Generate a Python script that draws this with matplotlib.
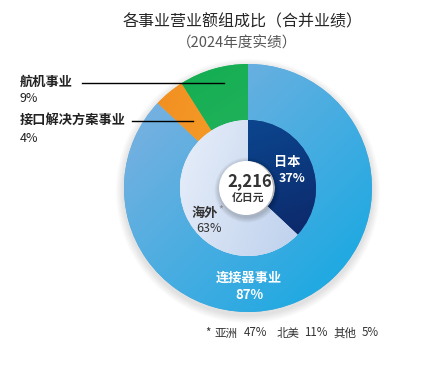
import numpy as np
import matplotlib
matplotlib.use('Agg')
import matplotlib.pyplot as plt
from matplotlib.colors import to_rgb
from matplotlib.patches import Circle

plt.rcParams['font.family'] = ['Noto Sans CJK SC', 'DejaVu Sans']

# ---- data ----
title = '各事业营业额组成比（合并业绩）'
subtitle = '（2024年度实绩）'
segments = ['连接器事业', '接口解决方案事业', '航机事业']
segment_pct = [87, 4, 9]
regions = ['日本', '海外']
region_pct = [37, 63]
total_value = '2,216'
total_unit = '亿日元'
overseas_regions = ['亚洲', '北美', '其他']
overseas_pct = [47, 11, 5]

W, H = 429, 373
fig = plt.figure(figsize=(W / 100, H / 100), dpi=100)
ax = fig.add_axes([0, 0, 1, 1])

cx, cy = 248, H - 188
R_out, R_mid, R_in = 124, 68, 27


def grad_fill(ax, patch, c1, c2, direction, z):
    c1, c2 = np.array(to_rgb(c1)), np.array(to_rgb(c2))
    n = 200
    xs = np.linspace(-1, 1, n)
    X, Y = np.meshgrid(xs, xs[::-1])
    d = np.array(direction, float)
    d /= np.linalg.norm(d)
    t = (X * d[0] + Y * d[1]) / np.sqrt(2)
    t = (t - t.min()) / (t.max() - t.min())
    img = c1[None, None, :] * (1 - t[..., None]) + c2[None, None, :] * t[..., None]
    im = ax.imshow(img, extent=[cx - R_out, cx + R_out, cy - R_out, cy + R_out],
                   origin='upper', zorder=z, interpolation='bilinear')
    im.set_clip_path(patch)


# soft shadow behind outer ring
for i in range(10):
    ax.add_patch(Circle((cx, cy - 3), R_out + 1 + i * 0.8, color='k', alpha=0.012, lw=0, zorder=0))

outer_colors = ['#4fa8dd', '#f7a228', '#25b15d']
w_out, _ = ax.pie(segment_pct, radius=R_out, center=(cx, cy), startangle=90, counterclock=False,
                  colors=outer_colors, wedgeprops=dict(width=R_out - R_mid, linewidth=0))
for w in w_out:
    w.set_zorder(1)
grad_fill(ax, w_out[0], '#86b2e0', '#0fa8e2', (1, -1), 2)
grad_fill(ax, w_out[1], '#f08a20', '#fdb731', (1, -0.3), 2)
grad_fill(ax, w_out[2], '#0eac4f', '#44bc6f', (0.6, -1), 2)

inner_colors = ['#0b3a80', '#dbe6f5']
w_in, _ = ax.pie(region_pct, radius=R_mid, center=(cx, cy), startangle=90, counterclock=False,
                 colors=inner_colors, wedgeprops=dict(width=R_mid - R_in, linewidth=0))
for w in w_in:
    w.set_zorder(3)
grad_fill(ax, w_in[0], '#0a5aa8', '#0e1450', (0.3, -1), 4)
grad_fill(ax, w_in[1], '#fbfcff', '#a6c0e6', (1, -0.35), 4)

# center circle with shadow
for i in range(6):
    ax.add_patch(Circle((cx - 1, cy - 2), R_in + 1 + i * 0.9, color='k', alpha=0.03, lw=0, zorder=5))
ax.add_patch(Circle((cx - 2, cy), R_in, color='white', lw=0, zorder=6))

ax.set_xlim(0, W)
ax.set_ylim(0, H)
ax.set_aspect('auto')
ax.axis('off')


def Y(y):
    return H - y


# titles
ax.text(243, Y(22), title, ha='center', va='center', fontsize=11.5, color='#262626', zorder=10)
ax.text(237, Y(44), subtitle, ha='center', va='center', fontsize=10.5, color='#555555', zorder=10)

# outer side labels
ax.text(20, Y(82), segments[2], ha='left', va='center', fontsize=9.5, fontweight='bold', color='#222222')
ax.text(20, Y(99), f'{segment_pct[2]}%', ha='left', va='center', fontsize=9, color='#222222')
ax.text(20, Y(120), segments[1], ha='left', va='center', fontsize=9.5, fontweight='bold', color='#222222')
ax.text(20, Y(138), f'{segment_pct[1]}%', ha='left', va='center', fontsize=9, color='#222222')
ax.plot([82, 224], [Y(83), Y(83)], color='black', lw=1, zorder=10)
ax.plot([132, 193], [Y(121), Y(121)], color='black', lw=1, zorder=10)

# connector label
ax.text(249, Y(278), segments[0], ha='center', va='center', fontsize=9.5, fontweight='bold', color='white', zorder=10)
ax.text(249, Y(295), f'{segment_pct[0]}%', ha='center', va='center', fontsize=9.5, fontweight='bold', color='white', zorder=10)

# inner labels
ax.text(287, Y(162), regions[0], ha='center', va='center', fontsize=9.5, fontweight='bold', color='white', zorder=10)
ax.text(292, Y(178), f'{region_pct[0]}%', ha='center', va='center', fontsize=9, fontweight='bold', color='white', zorder=10)
ax.text(205, Y(213), regions[1], ha='center', va='center', fontsize=9.5, fontweight='bold', color='#333333', zorder=10)
ax.text(221, Y(209), '*', ha='center', va='center', fontsize=7.5, color='#888888', zorder=10)
ax.text(209, Y(229), f'{region_pct[1]}%', ha='center', va='center', fontsize=9, color='#333333', zorder=10)

# center total
ax.text(250, Y(181), total_value, ha='center', va='center', fontsize=12, fontweight='bold', color='#333333', zorder=10)
ax.text(248, Y(198), total_unit, ha='center', va='center', fontsize=7.8, fontweight='bold', color='#333333', zorder=10)

# footnote
ax.text(208, Y(333), '*', ha='center', va='center', fontsize=8.3, color='#333333', zorder=10)
name_x = [214, 277, 333]
pct_x = [267, 328, 379]
for n, p, nx, px in zip(overseas_regions, overseas_pct, name_x, pct_x):
    ax.text(nx, Y(333), n, ha='left', va='center', fontsize=8.3, color='#333333', zorder=10)
    ax.text(px, Y(333), f'{p}%', ha='right', va='center', fontsize=8.3, color='#333333', zorder=10)

fig.savefig('out.png', dpi=100, facecolor='white')
